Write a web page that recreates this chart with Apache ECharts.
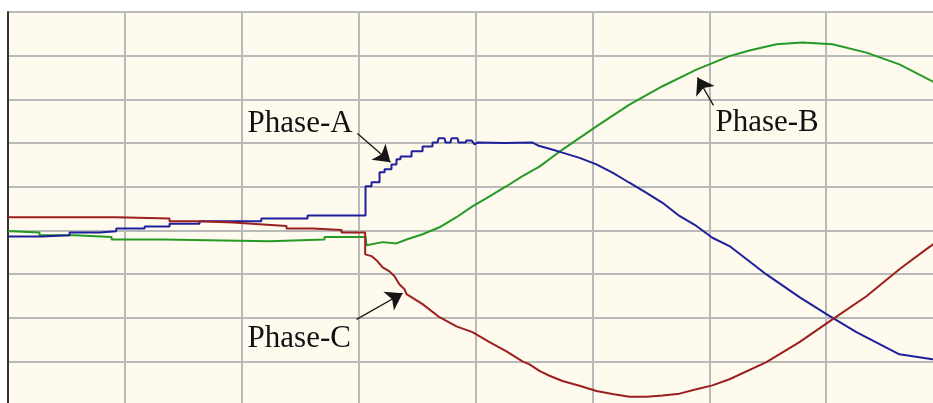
<!DOCTYPE html>
<html>
<head>
<meta charset="utf-8">
<script src="https://cdn.jsdelivr.net/npm/echarts@6/dist/echarts.min.js"></script>
<style>
html,body{margin:0;padding:0;background:#ffffff;overflow:hidden;width:933px;height:403px;}
#chart{width:960px;height:420px;}
</style>
</head>
<body>
<div id="chart"></div>
<script>
// time in ms (10 ms per grid division), value in per-unit (1 per division)
const phaseA = [
  [0,-0.14],[2.85,-0.14],[2.85,-0.11],[5.27,-0.11],[5.27,-0.05],[7.84,-0.05],[7.84,-0.02],[9.26,-0.02],
  [9.26,0.04],[11.69,0.04],[11.69,0.09],[13.82,0.09],[13.82,0.15],[16.39,0.15],[16.39,0.21],[21.67,0.21],
  [21.67,0.27],[25.63,0.27],[25.63,0.34],[30.59,0.34],[30.59,1.01],[31.10,1.01],[31.10,1.10],[31.79,1.10],
  [31.79,1.33],[32.22,1.33],[32.22,1.40],[32.81,1.40],[32.81,1.51],[33.24,1.51],[33.24,1.63],[33.58,1.63],
  [33.58,1.69],[34.53,1.69],[34.53,1.81],[35.47,1.81],[35.47,1.92],[36.32,1.92],[36.32,2.01],[36.75,2.01],
  [36.84,2.11],[37.35,2.11],[37.43,2.01],[37.86,2.01],[37.95,2.11],[38.46,2.11],[38.55,2.01],[39.15,2.01],
  [39.23,2.06],[39.66,2.06],[39.92,1.97],[40.17,2.01],[42.5,2.00],[44.88,2.01],[45.47,1.93],[46.33,1.87],
  [47.44,1.78],[48.90,1.66],[50.35,1.51],[51.72,1.32],[53.17,1.09],[54.63,0.86],[56.00,0.63],[57.45,0.33],
  [58.90,0.10],[60.27,-0.17],[61.73,-0.36],[64.89,-1.01],[67.72,-1.53],[70.03,-1.92],[72.59,-2.33],
  [76.27,-2.84],[79.10,-2.95],[80,-2.97]
];
const phaseB = [
  [0,-0.02],[0.31,-0.02],[0.31,-0.05],[2.70,-0.05],[2.70,-0.11],[5.70,-0.11],[5.70,-0.15],[8.86,-0.15],
  [8.86,-0.21],[13.22,-0.21],[13.22,-0.25],[22.38,-0.25],[22.38,-0.21],[27.08,-0.21],[27.08,-0.15],[30.59,-0.15],
  [30.68,-0.34],[32.05,-0.27],[33.24,-0.30],[34.10,-0.21],[35.47,-0.09],[36.92,0.07],[38.37,0.30],[39.74,0.55],
  [41.20,0.78],[42.65,1.01],[44.02,1.24],[45.47,1.46],[47.44,1.85],[50.35,2.38],[53.17,2.88],[56.00,3.30],
  [58.90,3.68],[61.73,3.99],[63.44,4.12],[65.75,4.26],[67.97,4.30],[70.54,4.26],[73.45,4.07],[76.27,3.80],
  [79.10,3.41],[80,3.27]
];
const phaseC = [
  [0,0.30],[9.26,0.30],[9.26,0.27],[13.82,0.27],[13.82,0.21],[16.39,0.21],[16.39,0.18],[19.24,0.18],
  [19.24,0.14],[21.52,0.14],[21.52,0.10],[23.83,0.10],[23.83,0.04],[26.06,0.04],[26.06,0.01],[28.54,0.01],
  [28.54,-0.05],[30.56,-0.05],[30.56,-0.55],[31.10,-0.59],[31.62,-0.71],[32.05,-0.85],[32.64,-0.94],
  [33.07,-1.05],[33.50,-1.24],[33.93,-1.35],[34.10,-1.46],[35.47,-1.69],[36.92,-1.99],[38.37,-2.20],
  [39.74,-2.33],[41.20,-2.56],[42.65,-2.77],[44.02,-3.00],[44.62,-3.07],[45.47,-3.22],[46.33,-3.33],
  [47.44,-3.45],[48.90,-3.56],[50.35,-3.68],[51.72,-3.75],[53.17,-3.81],[54.63,-3.81],[56.00,-3.78],
  [57.45,-3.74],[58.90,-3.64],[60.27,-3.55],[61.73,-3.41],[64.89,-3.02],[67.72,-2.56],[70.54,-2.04],
  [73.45,-1.51],[76.27,-0.89],[78.58,-0.43],[80,-0.16]
];
const labelTexts = ['Phase-A', 'Phase-B', 'Phase-C'];
const labelAnchors = [[20.5, 2.44], [60.53, 2.45], [20.5, -2.48]];
const arrowTails = [[29.90, 2.22], [60.36, 2.86], [29.82, -2.04]];
const arrowTips = [[32.73, 1.56], [58.99, 3.50], [33.76, -1.44]];

const chart = echarts.init(document.getElementById('chart'), null, {renderer: 'canvas'});
const lineSeries = (name, data, color) => ({
  name, type: 'line', data, showSymbol: false, symbol: 'none',
  lineStyle: {color, width: 2}, itemStyle: {color}, animation: false, silent: true, z: 3
});
chart.setOption({
  animation: false,
  backgroundColor: '#ffffff',
  grid: {left: 8, top: 12, width: 935, height: 393, show: true, backgroundColor: '#fefaee', borderWidth: 0, containLabel: false},
  xAxis: {
    type: 'value', min: 0, max: 80, interval: 10,
    axisLine: {show: false}, axisTick: {show: false}, axisLabel: {show: false},
    splitLine: {show: true, lineStyle: {color: '#b9b9b9', width: 2}}
  },
  yAxis: {
    type: 'value', min: -4, max: 5, interval: 1,
    axisLine: {show: true, onZero: false, lineStyle: {color: '#333333', width: 2}},
    axisTick: {show: false}, axisLabel: {show: false},
    splitLine: {show: true, lineStyle: {color: '#b9b9b9', width: 2}}
  },
  series: [
    lineSeries('Phase-B', phaseB, '#259a25'),
    lineSeries('Phase-A', phaseA, '#1f1f9c'),
    lineSeries('Phase-C', phaseC, '#9c1f1f'),
    {
      type: 'line', data: [], silent: true, animation: false, z: 6,
      markLine: {
        silent: true, animation: false,
        symbol: ['none', 'arrow'], symbolSize: 16,
        label: {show: false},
        lineStyle: {color: '#151515', width: 1.3, type: 'solid'},
        data: arrowTails.map((t, i) => [{coord: t}, {coord: arrowTips[i]}])
      }
    }
  ]
});
const texts = labelTexts.map((txt, i) => {
  const p = chart.convertToPixel({gridIndex: 0}, labelAnchors[i]);
  return {
    type: 'text', x: p[0], y: p[1], z: 10, silent: true,
    style: {
      text: txt, font: '31px "Liberation Serif", "Times New Roman", serif', fill: '#111111',
      align: 'left', verticalAlign: 'middle', textAlign: 'left', textVerticalAlign: 'middle'
    }
  };
});
chart.setOption({graphic: texts});
</script>
</body>
</html>
